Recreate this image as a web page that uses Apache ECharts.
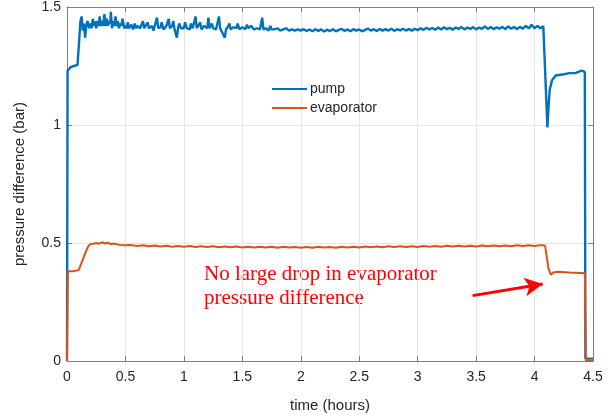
<!DOCTYPE html>
<html><head><meta charset="utf-8">
<script src="https://cdn.jsdelivr.net/npm/echarts@6/dist/echarts.min.js"></script>
<style>html,body{margin:0;padding:0;background:#fff}#c{width:613px;height:418px}</style>
</head><body><div id="c"></div>
<script>
var xTicks = ['0','0.5','1','1.5','2','2.5','3','3.5','4','4.5'];
var yTicks = ['0','0.5','1','1.5'];
var seriesNames = ['pump','evaporator'];
var pump = [[0,0],[0.005,1.23],[0.03,1.245],[0.06,1.25],[0.09,1.255],[0.10,1.26],[0.115,1.44],[0.125,1.46],[0.135,1.40],[0.145,1.43],[0.155,1.37],[0.165,1.42],[0.175,1.44],[0.19,1.41],
[0.2,1.43],[0.21,1.41],[0.22,1.45],[0.23,1.42],[0.24,1.44],[0.25,1.41],[0.26,1.44],[0.27,1.42],[0.28,1.46],[0.29,1.42],[0.3,1.44],[0.31,1.42],[0.32,1.47],[0.33,1.42],[0.34,1.45],[0.35,1.42],[0.36,1.44],[0.37,1.43],[0.375,1.48],[0.385,1.41],[0.395,1.44],[0.405,1.42],[0.415,1.46],[0.425,1.42],[0.435,1.44],[0.445,1.41],[0.455,1.43],[0.465,1.42],[0.475,1.45],[0.49,1.41],
[0.5,1.42],[0.51,1.41],[0.52,1.435],[0.53,1.41],[0.55,1.425],[0.565,1.405],[0.58,1.43],[0.59,1.41],[0.6,1.42],[0.625,1.41],[0.65,1.44],[0.66,1.41],[0.675,1.415],[0.69,1.435],[0.7,1.41],[0.725,1.42],[0.74,1.40],[0.75,1.42],[0.77,1.455],[0.78,1.41],[0.8,1.415],[0.81,1.435],[0.825,1.405],[0.85,1.42],[0.87,1.45],[0.88,1.41],[0.9,1.42],[0.91,1.44],[0.92,1.405],[0.94,1.37],[0.95,1.41],[0.96,1.43],[0.975,1.41],
[1.0,1.41],[1.01,1.435],[1.025,1.41],[1.05,1.405],[1.06,1.43],[1.075,1.41],[1.1,1.46],[1.11,1.41],[1.125,1.415],[1.14,1.435],[1.15,1.405],[1.175,1.42],[1.2,1.41],[1.21,1.455],[1.22,1.41],[1.24,1.43],[1.25,1.41],[1.275,1.405],[1.3,1.46],[1.31,1.41],[1.325,1.415],[1.35,1.37],[1.36,1.405],[1.375,1.415],[1.39,1.43],[1.4,1.405],[1.425,1.415],[1.45,1.41],[1.46,1.43],[1.475,1.405],
[1.5,1.415],[1.525,1.405],[1.54,1.425],[1.55,1.41],[1.575,1.42],[1.6,1.405],[1.625,1.41],[1.65,1.405],[1.67,1.455],[1.68,1.405],[1.7,1.41],[1.725,1.40],[1.74,1.42],[1.75,1.405],[1.775,1.405],[1.8,1.41],[1.825,1.40],[1.85,1.405],[1.875,1.41],[1.9,1.40],[1.925,1.405],[1.95,1.40],[1.975,1.405],
[2.0,1.40],[2.025,1.406],[2.05,1.398],[2.075,1.405],[2.1,1.397],[2.125,1.406],[2.15,1.399],[2.175,1.405],[2.2,1.396],[2.225,1.404],[2.25,1.398],[2.275,1.406],[2.3,1.397],[2.325,1.403],[2.35,1.407],[2.375,1.399],[2.4,1.405],[2.425,1.397],[2.45,1.406],[2.475,1.40],
[2.5,1.405],[2.525,1.397],[2.55,1.403],[2.575,1.408],[2.6,1.40],[2.625,1.406],[2.65,1.398],[2.675,1.407],[2.7,1.40],[2.725,1.406],[2.75,1.40],[2.775,1.408],[2.8,1.399],[2.825,1.406],[2.85,1.401],[2.875,1.408],[2.9,1.40],[2.925,1.407],[2.95,1.399],[2.975,1.408],
[3.0,1.402],[3.025,1.41],[3.05,1.403],[3.075,1.412],[3.1,1.405],[3.125,1.411],[3.15,1.404],[3.175,1.413],[3.2,1.405],[3.225,1.414],[3.25,1.406],[3.275,1.412],[3.3,1.404],[3.325,1.413],[3.35,1.407],[3.375,1.415],[3.4,1.405],[3.425,1.413],[3.45,1.407],[3.475,1.415],
[3.5,1.405],[3.525,1.413],[3.55,1.407],[3.575,1.418],[3.6,1.407],[3.625,1.415],[3.65,1.406],[3.675,1.414],[3.7,1.408],[3.725,1.416],[3.75,1.406],[3.775,1.418],[3.8,1.408],[3.825,1.415],[3.85,1.406],[3.875,1.416],[3.9,1.408],[3.925,1.42],[3.95,1.409],[3.975,1.425],
[4.0,1.41],[4.025,1.42],[4.05,1.41],[4.075,1.418],[4.09,1.41],[4.11,0.99],[4.12,1.08],[4.13,1.15],[4.15,1.19],[4.18,1.21],[4.25,1.215],[4.3,1.22],[4.35,1.22],[4.4,1.23],[4.43,1.225],[4.435,0.01],[4.5,0.01]];
var evaporator = [[0,0],[0.008,0.38],[0.05,0.38],[0.1,0.385],[0.12,0.41],[0.15,0.45],[0.18,0.485],[0.2,0.495],[0.225,0.497],[0.25,0.50],[0.275,0.497],[0.3,0.503],[0.325,0.498],[0.35,0.501],[0.375,0.495],[0.4,0.498],[0.45,0.492],[0.5,0.49],
[0.55,0.491],[0.6,0.487],[0.65,0.49],[0.7,0.486],[0.75,0.489],[0.8,0.485],[0.85,0.488],[0.9,0.484],[0.95,0.487],[1.0,0.484],[1.05,0.487],[1.1,0.483],[1.15,0.486],[1.2,0.483],[1.25,0.486],[1.3,0.482],[1.35,0.485],[1.4,0.482],[1.45,0.485],[1.5,0.481],
[1.55,0.484],[1.6,0.481],[1.65,0.484],[1.7,0.481],[1.75,0.484],[1.8,0.48],[1.85,0.484],[1.9,0.481],[1.95,0.483],[2.0,0.48],[2.05,0.483],[2.1,0.48],[2.15,0.484],[2.2,0.481],[2.25,0.483],[2.3,0.48],[2.35,0.484],[2.4,0.481],[2.45,0.484],[2.5,0.481],
[2.55,0.485],[2.6,0.482],[2.65,0.485],[2.7,0.482],[2.75,0.486],[2.8,0.483],[2.85,0.486],[2.9,0.483],[2.95,0.486],[3.0,0.483],[3.05,0.487],[3.1,0.484],[3.15,0.487],[3.2,0.484],[3.25,0.488],[3.3,0.485],[3.35,0.488],[3.4,0.485],[3.45,0.488],[3.5,0.485],
[3.55,0.489],[3.6,0.486],[3.65,0.489],[3.7,0.486],[3.75,0.489],[3.8,0.486],[3.85,0.49],[3.9,0.487],[3.95,0.49],[4.0,0.487],[4.05,0.491],[4.09,0.489],[4.12,0.39],[4.14,0.365],[4.16,0.375],[4.2,0.378],[4.3,0.375],[4.4,0.373],[4.43,0.372],[4.44,0],[4.5,0]];
var arrowFrom = [3.47, 0.277];
var arrowTo = [4.07, 0.326];
var noteLines = ['No large drop in evaporator', 'pressure difference'];

var chart = echarts.init(document.getElementById('c'), null, {renderer:'canvas'});
var axisCol = '#808080', txtCol = '#262626', gridCol = '#e6e6e6';
var font = 'Liberation Sans, Arial, sans-serif';
function xAx(pos, show) {
  return {type:'value', position:pos, min:0, max:4.5, interval:0.5,
    axisLine:{show:true, onZero:false, lineStyle:{color:axisCol, width:1}},
    axisTick:{show:true, inside:true, length:5, lineStyle:{color:axisCol}},
    axisLabel:{show:show, color:txtCol, fontSize:14, fontFamily:font, margin:9,
      formatter:function(v){ var i = Math.round(v/0.5); return xTicks[i]; }},
    splitLine:{show:show, lineStyle:{color:gridCol}},
    name: show ? 'time (hours)' : '', nameLocation:'middle', nameGap:37,
    nameTextStyle:{color:txtCol, fontSize:15, fontFamily:font}};
}
function yAx(pos, show) {
  return {type:'value', position:pos, min:0, max:1.5, interval:0.5,
    axisLine:{show:true, onZero:false, lineStyle:{color:axisCol, width:1}},
    axisTick:{show:true, inside:true, length:5, lineStyle:{color:axisCol}},
    axisLabel:{show:show, color:txtCol, fontSize:14, fontFamily:font, margin:6,
      formatter:function(v){ var i = Math.round(v/0.5); return yTicks[i]; }},
    splitLine:{show:show, lineStyle:{color:gridCol}},
    name: show ? 'pressure difference (bar)' : '', nameLocation:'middle', nameGap:40,
    nameTextStyle:{color:txtCol, fontSize:15, fontFamily:font}};
}
chart.setOption({
  animation:false,
  backgroundColor:'#fff',
  grid:{left:67, top:7, right:20, bottom:57},
  xAxis:[xAx('bottom', true), xAx('top', false)],
  yAxis:[yAx('left', true), yAx('right', false)],
  legend:{show:true, orient:'vertical', left:267, top:77, itemWidth:35, itemHeight:2, itemGap:5,
    icon:'rect', textStyle:{color:txtCol, fontSize:14, fontFamily:font, padding:[0,0,0,-2]},
    data:seriesNames},
  series:[
    {name:seriesNames[0], type:'line', data:pump, showSymbol:false, symbol:'none',
      lineStyle:{color:'#0072BD', width:2.4}, itemStyle:{color:'#0072BD'}},
    {name:seriesNames[1], type:'line', data:evaporator, showSymbol:false, symbol:'none',
      lineStyle:{color:'#D95319', width:2}, itemStyle:{color:'#D95319'},
      markLine:{silent:true, symbol:['none','arrow'], symbolSize:[14,18], label:{show:false},
        lineStyle:{color:'#ff0000', width:3, type:'solid'},
        data:[[{coord:arrowFrom},{coord:arrowTo}]]}}
  ],
  graphic:[{type:'text', left:204, top:262,
    style:{text:noteLines.join('\n'), fill:'#ff0000', font:'21px "Liberation Serif", "Times New Roman", serif', lineHeight:24}}]
});
</script></body></html>
